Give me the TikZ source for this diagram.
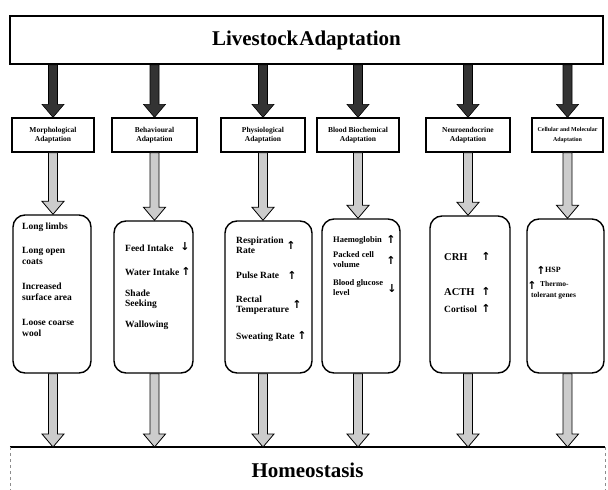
\documentclass[tikz,border=0pt]{standalone}
\usepackage{fontspec}
\setmainfont{Liberation Serif}
\newfontfamily\symfont{DejaVu Sans}
\usetikzlibrary{calc}
\newcommand\blockarr[3]{\path[#1] let \p1=(#2), \p2=(#3) in
  (\x1-4.5pt,\y1) -- (\x1-4.5pt,\y2+13pt) -- (\x1-11pt,\y2+13pt) -- (\x1,\y2)
  -- (\x1+11pt,\y2+13pt) -- (\x1+4.5pt,\y2+13pt) -- (\x1+4.5pt,\y1) -- cycle;}
\tikzset{
  bigbox/.style={draw, line width=1.5pt, inner sep=0pt},
  hdr/.style={draw, line width=1.3pt, inner sep=0pt, minimum height=34pt, align=center,
     font=\fontsize{7.5}{9.5}\selectfont\bfseries},
  listbox/.style={draw, line width=1.4pt, rounded corners=12pt, inner sep=0pt},
  itm/.style={anchor=west, inner sep=0pt, align=left, font=\fontsize{9.5}{10.5}\selectfont\bfseries},
  upar/.style={inner sep=0pt, font=\fontsize{11}{11}\symfont\bfseries},
  darkarr/.style={fill=black!80, draw=black, line width=0.6pt},
  lightarr/.style={fill=black!20, draw=black, line width=0.8pt}
}
\begin{document}
\begin{tikzpicture}[x=1pt,y=-1pt]
\useasboundingbox (0,0) rectangle (608,490);
% top box
\node[bigbox, minimum width=593pt, minimum height=48pt, font=\fontsize{21}{21}\selectfont\bfseries]
  (top) at (306.5,40) {Livestock\hspace{1pt}Adaptation};
% header boxes
\node[hdr, minimum width=82pt] (h1) at (53,135) {Morphological\\Adaptation};
\node[hdr, minimum width=85pt] (h2) at (154.5,135) {Behavioural\\Adaptation};
\node[hdr, minimum width=84pt] (h3) at (263,135) {Physiological\\Adaptation};
\node[hdr, minimum width=82pt] (h4) at (358,135) {Blood Biochemical\\Adaptation};
\node[hdr, minimum width=84pt] (h5) at (468,135) {Neuroendocrine\\Adaptation};
\node[hdr, minimum width=71pt, font=\fontsize{6}{9.5}\selectfont\bfseries] (h6) at (567.5,135) {Cellular and Molecular\\Adaptation};
% list boxes
\node[listbox, minimum width=78pt, minimum height=158pt] (b1) at (52,294) {};
\node[listbox, minimum width=79pt, minimum height=152pt] (b2) at (153.5,297) {};
\node[listbox, minimum width=87pt, minimum height=152pt] (b3) at (268.5,297) {};
\node[listbox, minimum width=78pt, minimum height=154pt] (b4) at (361,296) {};
\node[listbox, minimum width=80pt, minimum height=157pt] (b5) at (470,294.5) {};
\node[listbox, minimum width=77pt, minimum height=154pt] (b6) at (565.5,296) {};
% homeostasis
\node[inner sep=0pt, minimum width=595pt, minimum height=46pt, anchor=north,
  font=\fontsize{21}{21}\selectfont\bfseries] (home) at (307.5,447) {Homeostasis};
\draw[line width=1.5pt] (home.north west) -- (home.north east);
\draw[black!45, line width=0.6pt, dashed] (home.north west) -- (home.south west);
\draw[black!45, line width=0.6pt, dashed] (home.north east) -- (home.south east);
% arrows
\foreach \i in {1,...,6}{
  \blockarr{darkarr}{top.south -| h\i.north}{h\i.north}
  \blockarr{lightarr}{h\i.south}{h\i.south |- b\i.north}
  \blockarr{lightarr}{h\i.south |- b\i.south}{h\i.south |- home.north}
}
% column 1
\node[itm] (t11) at (22,227) {Long limbs};
\node[itm] (t12) at (22,256) {Long open\\coats};
\node[itm] (t13) at (22,292) {Increased\\surface area};
\node[itm] (t14) at (22,328) {Loose coarse\\wool};
% column 2
\node[itm] (t21) at (125,248) {Feed Intake};
\node[upar] (a21) at (185,247) {↓};
\node[itm] (t22) at (125,272) {Water Intake};
\node[upar] (a22) at (186,271) {↑};
\node[itm] (t23) at (125,299) {Shade\\Seeking};
\node[itm] (t24) at (125,325) {Wallowing};
% column 3
\node[itm] (t31) at (236,245) {Respiration\\Rate};
\node[upar] (a31) at (291,245) {↑};
\node[itm] (t32) at (236,275) {Pulse Rate};
\node[upar] (a32) at (292,275) {↑};
\node[itm] (t33) at (236,305) {Rectal\\Temperature};
\node[upar] (a33) at (297,304) {↑};
\node[itm] (t34) at (236,337) {Sweating Rate};
\node[upar] (a34) at (302,335) {↑};
% column 4
\node[itm, font=\fontsize{8.5}{10}\selectfont\bfseries] (t41) at (333,240) {Haemoglobin};
\node[upar] (a41) at (391,239) {↑};
\node[itm, font=\fontsize{8.5}{10}\selectfont\bfseries] (t42) at (333,260) {Packed cell\\volume};
\node[upar] (a42) at (391,260) {↑};
\node[itm, font=\fontsize{8.5}{10}\selectfont\bfseries] (t43) at (333,288) {Blood glucose\\level};
\node[upar] (a43) at (392,289) {↓};
% column 5
\node[itm, font=\fontsize{10.5}{11}\selectfont\bfseries] (t51) at (444,257) {CRH};
\node[upar] (a51) at (486,256) {↑};
\node[itm, font=\fontsize{10.5}{11}\selectfont\bfseries] (t52) at (444,292) {ACTH};
\node[upar] (a52) at (486,291) {↑};
\node[itm] (t53) at (444,309) {Cortisol};
\node[upar] (a53) at (486,308) {↑};
% column 6
\node[upar] (a61) at (541,270) {↑};
\node[itm, font=\fontsize{8}{9}\selectfont\bfseries] (t61) at (545,270) {HSP};
\node[upar] (a62) at (532,285) {↑};
\node[itm, font=\fontsize{7.5}{9}\selectfont\bfseries] (t62) at (540,284) {Thermo-};
\node[itm, font=\fontsize{7.5}{9}\selectfont\bfseries] (t63) at (531,296) {tolerant genes};
\end{tikzpicture}
\end{document}
